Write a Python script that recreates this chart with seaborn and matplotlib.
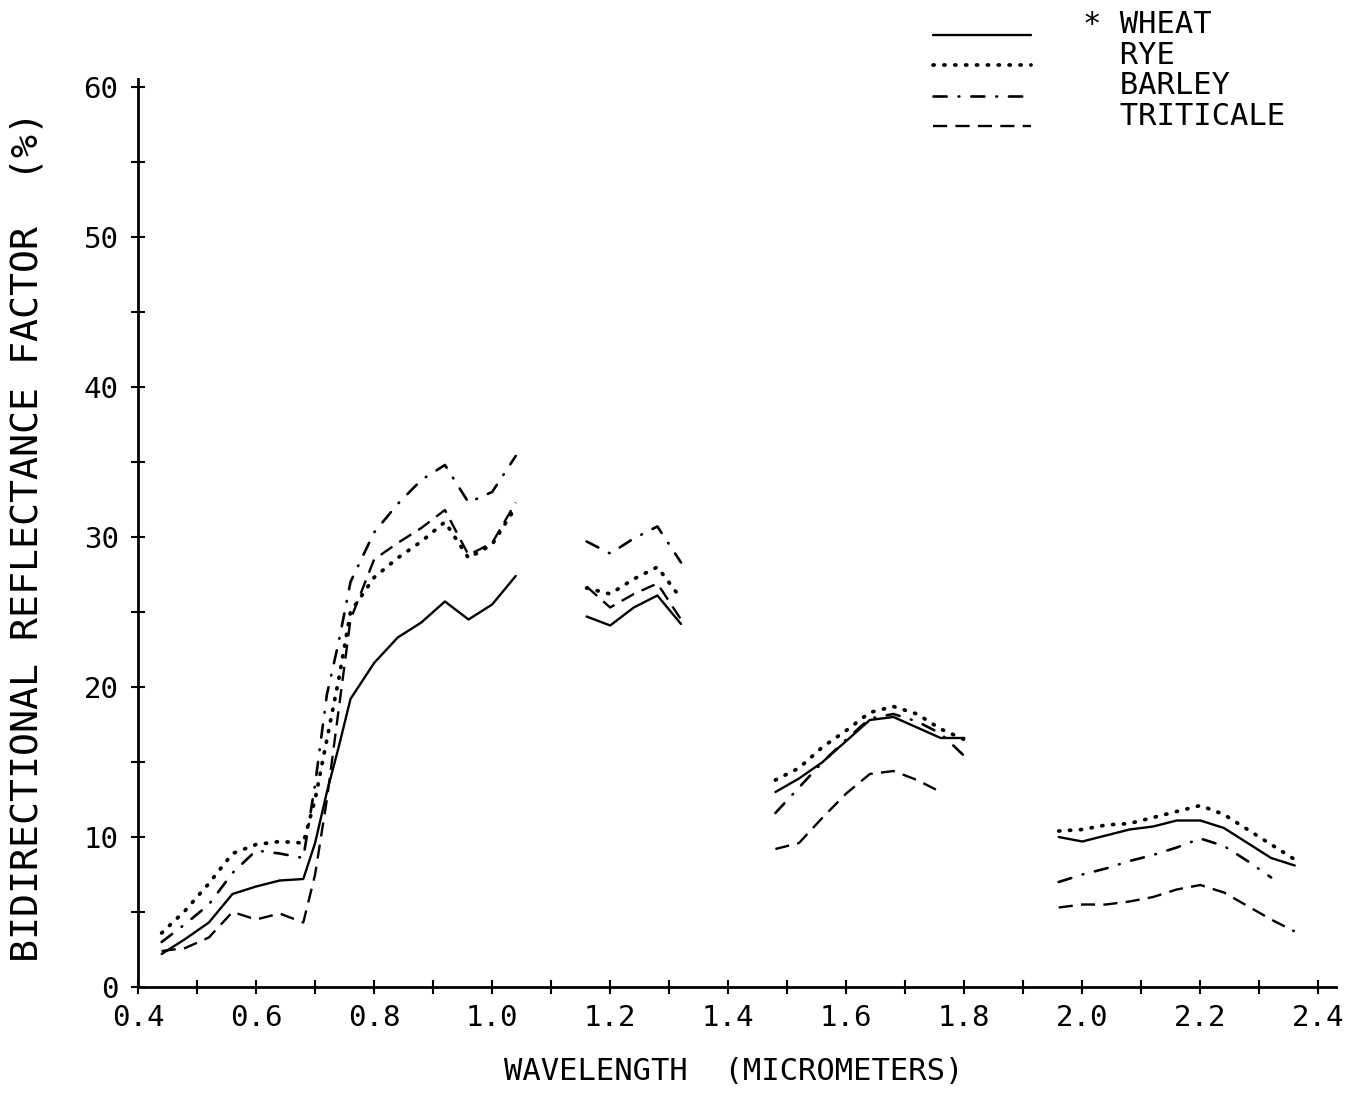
import numpy as np
import pandas as pd
import seaborn as sns
import matplotlib.pyplot as plt
from matplotlib.lines import Line2D
from matplotlib.ticker import MultipleLocator, FormatStrFormatter

nan = np.nan

# wavelengths (micrometers), split into the four atmospheric windows
wavelength = [0.44, 0.48, 0.52, 0.56, 0.60, 0.64, 0.68, 0.70, 0.72, 0.74, 0.76, 0.80, 0.84, 0.88, 0.92, 0.96, 1.00, 1.04,
              1.16, 1.20, 1.24, 1.28, 1.32,
              1.48, 1.52, 1.56, 1.60, 1.64, 1.68, 1.72, 1.76, 1.80,
              1.96, 2.00, 2.04, 2.08, 2.12, 2.16, 2.20, 2.24, 2.28, 2.32, 2.36]
band = [1] * 18 + [2] * 5 + [3] * 9 + [4] * 11

wheat = [2.2, 3.2, 4.3, 6.2, 6.7, 7.1, 7.2, 9.6, 13.0, 16.0, 19.2, 21.6, 23.3, 24.3, 25.7, 24.5, 25.5, 27.4,
         24.7, 24.1, 25.3, 26.1, 24.2,
         13.0, 13.9, 15.0, 16.4, 17.8, 18.0, 17.3, 16.6, 16.6,
         10.0, 9.7, 10.1, 10.5, 10.7, 11.1, 11.1, 10.6, 9.6, 8.6, 8.1]
rye = [3.6, 5.1, 6.9, 8.9, 9.5, 9.7, 9.6, 12.5, 16.5, 20.5, 25.0, 27.3, 28.6, 29.7, 31.0, 28.6, 29.5, 32.0,
       26.6, 26.2, 27.2, 28.0, 25.9,
       13.8, 14.6, 16.0, 17.1, 18.3, 18.7, 18.2, 17.2, 16.5,
       10.4, 10.5, 10.8, 10.9, 11.3, 11.7, 12.1, 11.5, 10.5, 9.5, 8.5]
barley = [3.0, 4.2, 5.5, 7.6, 9.1, 8.9, 8.6, 13.5, 19.5, 23.0, 27.0, 30.3, 32.2, 33.8, 34.8, 32.3, 33.0, 35.4,
          29.7, 28.9, 29.9, 30.7, 28.3,
          11.6, 13.3, 15.0, 16.5, 17.9, 18.2, 17.7, 16.9, 15.4,
          7.0, 7.5, 7.9, 8.4, 8.8, 9.3, 9.9, 9.4, 8.4, 7.3, nan]
triticale = [2.4, 2.6, 3.3, 5.0, 4.5, 4.9, 4.3, 7.5, 12.5, 18.5, 24.5, 28.5, 29.6, 30.6, 31.8, 28.8, 29.6, 32.3,
             26.7, 25.3, 26.2, 26.9, 24.5,
             9.2, 9.6, 11.3, 12.9, 14.2, 14.4, 13.8, 13.0, nan,
             5.3, 5.5, 5.5, 5.7, 6.0, 6.5, 6.8, 6.3, 5.4, 4.5, 3.7]

crops = ['WHEAT', 'RYE', 'BARLEY', 'TRITICALE']
legend_labels = ['* WHEAT', '  RYE', '  BARLEY', '  TRITICALE']


def main():
    sns.set_style('ticks')
    plt.rcParams['font.family'] = ['DejaVu Sans Mono', 'DejaVu Sans']
    for key in ['text.color', 'axes.labelcolor', 'xtick.color', 'ytick.color']:
        plt.rcParams[key] = 'black'

    df = pd.DataFrame({'wavelength': wavelength, 'band': band,
                       'WHEAT': wheat, 'RYE': rye, 'BARLEY': barley, 'TRITICALE': triticale})
    df = df.melt(id_vars=['wavelength', 'band'], var_name='crop', value_name='brf').dropna()

    styles = {
        'WHEAT': dict(linestyle='-', linewidth=1.7),
        'RYE': dict(linestyle=(0, (0.3, 2.6)), linewidth=2.7, dash_capstyle='round'),
        'BARLEY': dict(linestyle=(0, (5, 4.5, 0.3, 4.5)), linewidth=1.9, dash_capstyle='round'),
        'TRITICALE': dict(linestyle=(0, (6, 3.5)), linewidth=1.7),
    }

    fig = plt.figure(figsize=(13.56, 10.99), dpi=100)
    ax = fig.add_axes([0.1018, 0.1019, 0.8835, 0.8258])

    for crop in crops:
        sub = df[df['crop'] == crop]
        sns.lineplot(data=sub, x='wavelength', y='brf', units='band', estimator=None,
                     color='black', ax=ax, legend=False, **styles[crop])

    ax.set_xlim(0.4, 2.43)
    ax.set_ylim(0, 60.5)
    ax.xaxis.set_major_locator(MultipleLocator(0.2))
    ax.xaxis.set_minor_locator(MultipleLocator(0.1))
    ax.xaxis.set_major_formatter(FormatStrFormatter('%.1f'))
    ax.yaxis.set_major_locator(MultipleLocator(10))
    ax.yaxis.set_minor_locator(MultipleLocator(5))
    ax.tick_params(which='both', direction='inout', length=10, width=1.5, color='black')
    ax.tick_params(axis='x', which='major', labelsize=21, pad=7)
    ax.tick_params(axis='y', which='major', labelsize=21, pad=9)

    sns.despine(ax=ax)
    for s in ['left', 'bottom']:
        ax.spines[s].set_linewidth(2)
        ax.spines[s].set_color('black')

    ax.set_xlabel('WAVELENGTH  (MICROMETERS)', fontsize=22)
    ax.set_ylabel('BIDIRECTIONAL REFLECTANCE FACTOR  (%)', fontsize=27.5)
    ax.xaxis.set_label_coords(0.4975, -0.077)
    ax.yaxis.set_label_coords(-0.077, 0.496)

    handles = [Line2D([], [], color='black', **styles[c]) for c in crops]
    leg = fig.legend(handles, legend_labels, loc='upper left', bbox_to_anchor=(933 / 1356, 1 - 10 / 1099),
                     frameon=False, fontsize=22, handlelength=3.2, handletextpad=1.7,
                     labelspacing=0.05, borderpad=0, borderaxespad=0)
    # the legend lines sit a little below their labels in the original
    for ln in leg.get_lines():
        ln.set_ydata(np.asarray(ln.get_ydata()) - 9)

    fig.savefig('out.png', dpi=100)


if __name__ == "__main__":
    main()
